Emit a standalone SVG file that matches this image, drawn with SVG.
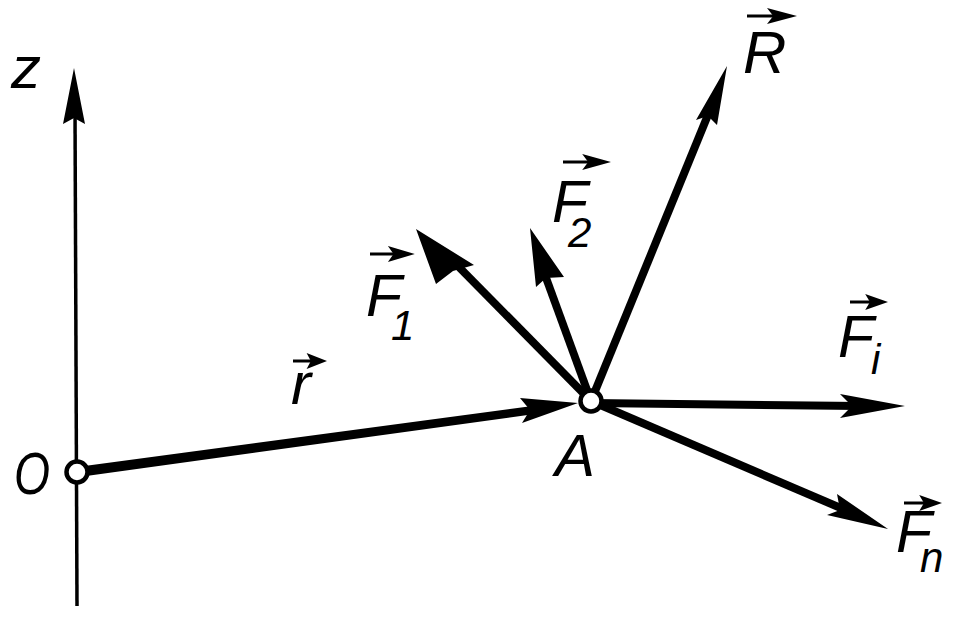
<svg xmlns="http://www.w3.org/2000/svg" width="957" height="624" viewBox="0 0 957 624">
<style>
.v{stroke:#000;stroke-width:8;fill:none}
.a{stroke:#000;stroke-width:3.5;fill:none}
.h{fill:#000;stroke:none}
.t{font-family:"Liberation Sans",Arial,sans-serif;font-style:italic;font-size:60px;fill:#000}
.s{font-size:42px}
.o{fill:none;stroke:#000;stroke-width:3}
.n{fill:#fff;stroke:#000;stroke-width:4.5}
</style>
<defs>
<g id="ov"><path class="o" d="M0 0H30"/><path class="h" d="M16 -8L40 0L16 8L21 0Z"/></g>
</defs>
<rect width="957" height="624" fill="#fff"/>
<g id="connectors">
<path class="a" d="M75 110L77 606"/>
<path class="h" d="M74 68L85 124L74 118L63 124Z"/>
<path class="h" d="M77 467L540 405L542 413L79 477Z"/>
<path class="h" d="M578 403L520 398L530 410L522 423Z"/>
<path class="v" d="M591 401L710 110"/>
<path class="h" d="M727 66L717 125L708 116L696 120Z"/>
<path class="v" d="M591 401L452 260"/>
<path class="h" d="M416 229L474 265L453 271L436 284Z"/>
<path class="v" d="M591 401L545 275"/>
<path class="h" d="M530 228L564 277L546 278L536 287Z"/>
<path class="v" d="M591 403L860 406"/>
<path class="h" d="M905 406L840 394L852 406L840 418Z"/>
<path class="v" d="M591 401L850 512"/>
<path class="h" d="M888 529L837 494L840 510L827 515Z"/>
</g>
<g id="node-O"><circle class="n" cx="77" cy="472" r="10.5"/></g>
<g id="node-A"><circle class="n" cx="591" cy="401" r="10.5"/></g>
<g id="label-z"><text class="t" x="11" y="88">z</text></g>
<g id="label-O"><text class="t" x="14" y="494" textLength="36" lengthAdjust="spacingAndGlyphs">O</text></g>
<g id="label-A"><text class="t" x="555" y="476">A</text></g>
<g id="label-r"><use href="#ov" transform="translate(293 361) scale(.85 1)"/><text class="t" x="291" y="404">r</text></g>
<g id="label-F1"><use href="#ov" transform="translate(370 254) scale(1.12 1)"/><text class="t" x="366" y="316" textLength="36" lengthAdjust="spacingAndGlyphs">F</text><text class="t s" x="391" y="340">1</text></g>
<g id="label-F2"><use href="#ov" transform="translate(563 162) scale(1.2 1)"/><text class="t" x="552" y="222" textLength="36" lengthAdjust="spacingAndGlyphs">F</text><text class="t s" x="568" y="247">2</text></g>
<g id="label-R"><use href="#ov" transform="translate(747 16) scale(1.25 1)"/><text class="t" x="743" y="73">R</text></g>
<g id="label-Fi"><use href="#ov" transform="translate(850 302) scale(.95 1)"/><text class="t" x="838" y="357" textLength="36" lengthAdjust="spacingAndGlyphs">F</text><text class="t s" x="871" y="374">i</text></g>
<g id="label-Fn"><use href="#ov" transform="translate(904 503) scale(.95 1)"/><text class="t" x="896" y="552" textLength="36" lengthAdjust="spacingAndGlyphs">F</text><text class="t s" x="920" y="572">n</text></g>
</svg>
